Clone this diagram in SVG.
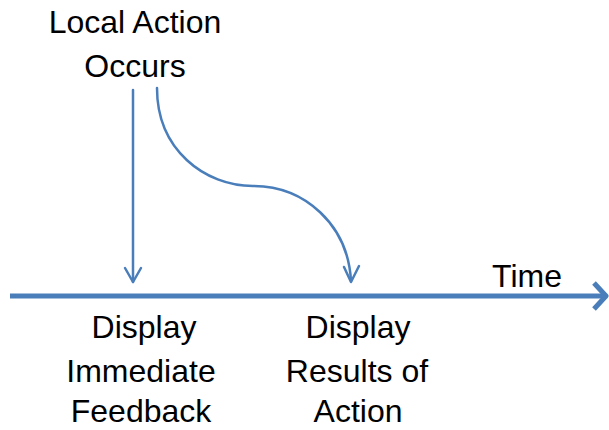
<svg xmlns="http://www.w3.org/2000/svg" width="609" height="430" viewBox="0 0 609 430">
  <style>
    .t { font-family: "Liberation Sans", Arial, sans-serif; font-size: 32px; fill: #000; text-anchor: middle; }
    .c { fill: none; stroke: #4a7ebb; stroke-width: 2.5; stroke-linecap: round; stroke-linejoin: round; }
    .axis { fill: none; stroke: #4a7ebb; stroke-width: 5; stroke-linecap: butt; stroke-linejoin: round; }
  </style>
  <rect width="609" height="430" fill="#ffffff"/>
  <g id="connectors">
    <path class="axis" d="M10,296 L605,296"/>
    <path class="axis" d="M594,283 L606,296 L594,309"/>
    <path class="c" d="M133,90 L133,282"/>
    <path class="c" d="M125,268 L133,282 L141,268"/>
    <path class="c" d="M157,88 C157,150 205,186 253,186 C305,186 348,225 351,281"/>
    <path class="c" d="M344,267 L351,282 L359,266"/>
  </g>
  <g id="local-action">
    <text class="t" x="135" y="33">Local Action</text>
    <text class="t" x="135" y="77">Occurs</text>
  </g>
  <g id="time">
    <text class="t" x="527" y="287">Time</text>
  </g>
  <g id="immediate-feedback">
    <text class="t" x="144" y="338">Display</text>
    <text class="t" x="141" y="382">Immediate</text>
    <text class="t" x="141" y="422">Feedback</text>
  </g>
  <g id="results-of-action">
    <text class="t" x="358" y="338">Display</text>
    <text class="t" x="357" y="382">Results of</text>
    <text class="t" x="358" y="422">Action</text>
  </g>
</svg>
